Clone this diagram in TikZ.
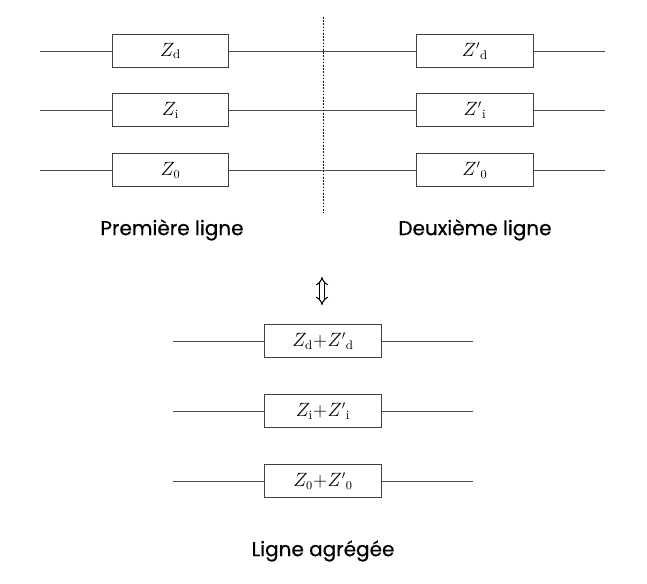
\documentclass[tikz,border=0pt]{standalone}
\usepackage{amsmath}
\usepackage{fontspec}
\newfontfamily\labelfont[FakeBold=0.6]{Poppins}
\usepackage{tikz}
\usetikzlibrary{shapes,arrows,arrows.meta,positioning,fit}

\begin{document}
\begin{tikzpicture}[x=0.75pt,y=-0.75pt]
			\tikzstyle{Imp}		= [rectangle, draw=black!75, line width=0.6pt, fill=white, minimum width=87.5pt, minimum height=24.5pt, inner sep=0pt, font=\fontsize{13.5}{16}\selectfont]
			\tikzstyle{Wire}	= [draw=black!70, line width=0.6pt]
			\tikzstyle{Sep}		= [black, line width=0.5pt, dash pattern=on 1.2pt off 1.2pt]
			\tikzstyle{Title}	= [font=\labelfont\fontsize{15}{18}\selectfont, inner sep=0pt]
			\tikzstyle{Equiv}	= [line width=0.8pt, double, double distance=2.4pt, {Implies[scale=1.3]}-{Implies[scale=1.3]}]

			\useasboundingbox (0,0) rectangle (647,583);

			% premiere et deuxieme ligne
			\node (zd) at (170.5,51) [Imp] {$Z_{\mathrm{d}}$};
			\node (zi) at (170.5,110) [Imp] {$Z_{\mathrm{i}}$};
			\node (z0) at (170.5,170) [Imp] {$Z_{0}$};
			\node (zdp) at (475,51) [Imp] {${Z'}_{\mathrm{d}}$};
			\node (zip) at (475,110) [Imp] {${Z'}_{\mathrm{i}}$};
			\node (z0p) at (475,170) [Imp] {${Z'}_{0}$};

			\coordinate (ld) at (40,51);
			\coordinate (li) at (40,110);
			\coordinate (l0) at (40,170);
			\coordinate (rd) at (605,51);
			\coordinate (ri) at (605,110);
			\coordinate (r0) at (605,170);

			\draw [-] (ld) to (zd) [Wire];
			\draw [-] (zd) to (zdp) [Wire];
			\draw [-] (zdp) to (rd) [Wire];
			\draw [-] (li) to (zi) [Wire];
			\draw [-] (zi) to (zip) [Wire];
			\draw [-] (zip) to (ri) [Wire];
			\draw [-] (l0) to (z0) [Wire];
			\draw [-] (z0) to (z0p) [Wire];
			\draw [-] (z0p) to (r0) [Wire];

			\coordinate (st) at (323,17);
			\coordinate (sb) at (323,213);
			\draw [-] (st) to (sb) [Sep];

			\node (t1) at (172,230) [Title] {Première ligne};
			\node (t2) at (475,230) [Title] {Deuxième ligne};

			\coordinate (eqt) at (322,277);
			\coordinate (eqb) at (322,305);
			\draw (eqt) to (eqb) [Equiv];

			% ligne agregee
			\node (sd) at (323,341) [Imp] {$Z_{\mathrm{d}}{+}{Z'}_{\mathrm{d}}$};
			\node (si) at (323,411) [Imp] {$Z_{\mathrm{i}}{+}{Z'}_{\mathrm{i}}$};
			\node (s0) at (323,481) [Imp] {$Z_{0}{+}{Z'}_{0}$};

			\coordinate (ad) at (173,341);
			\coordinate (ai) at (173,411);
			\coordinate (a0) at (173,481);
			\coordinate (bd) at (473,341);
			\coordinate (bi) at (473,411);
			\coordinate (b0) at (473,481);

			\draw [-] (ad) to (sd) [Wire];
			\draw [-] (sd) to (bd) [Wire];
			\draw [-] (ai) to (si) [Wire];
			\draw [-] (si) to (bi) [Wire];
			\draw [-] (a0) to (s0) [Wire];
			\draw [-] (s0) to (b0) [Wire];

			\node (t3) at (323,551) [Title] {Ligne agrégée};
\end{tikzpicture}
\end{document}
